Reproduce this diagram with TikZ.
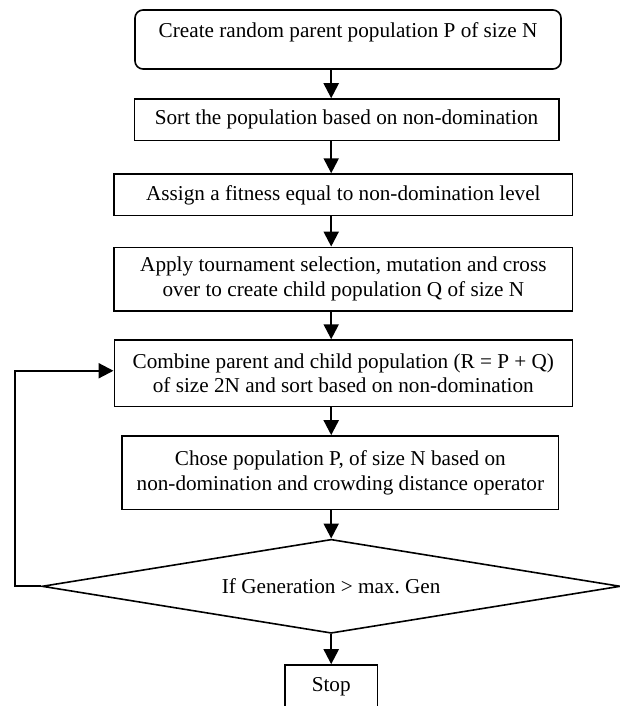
\documentclass[tikz,border=0pt]{standalone}
\usepackage{fontspec}
\setmainfont{Liberation Serif}
\usetikzlibrary{arrows.meta,shapes.geometric}

\begin{document}
\begin{tikzpicture}[x=0.5pt,y=-0.5pt,
    box/.style={draw,line width=0.8pt,inner sep=0pt,align=center,font=\fontsize{10.6}{12.3}\selectfont},
    flow/.style={line width=1.1pt,-{Triangle[length=7.5pt,width=7.5pt]}}]
  \clip (0,0) rectangle (620,706);
  % boxes
  \node (create) at (348,39.5) [box,rounded corners=4pt,minimum width=213pt,minimum height=29.5pt,text depth=9pt] {Create random parent population P of size N};
  \node (sort) at (346.5,119.85) [box,minimum width=212.2pt,minimum height=20.8pt] {Sort the population based on non-domination};
  \node (fitness) at (343.35,194.85) [box,minimum width=229.3pt,minimum height=20.8pt] {Assign a fitness equal to non-domination level};
  \node (child) at (343.35,279.15) [box,minimum width=229.3pt,minimum height=31.8pt] {Apply tournament selection, mutation and cross\\over to create child population Q of size N};
  \node (combine) at (343.3,373.35) [box,minimum width=229pt,minimum height=33.3pt] {Combine parent and child population (R = P + Q)\\of size 2N and sort based on non-domination};
  \node (chose) at (340.35,472.65) [box,minimum width=218.3pt,minimum height=36.7pt] {Chose population P, of size N based on\\non-domination and crowding distance operator};
  % decision
  \node (test) at (331.2,586.3) [box,diamond,aspect=6.16,minimum width=289.2pt,minimum height=47pt] {If Generation > max.\ Gen};
  \node (stop) at (331.2,686.8) [box,minimum width=46.35pt,minimum height=21.8pt] {Stop};
  % axis of the arrows
  \coordinate (axis) at (331.2,0);
  \coordinate (back) at (15,586.3);
  % arrows
  \draw[flow] (create.south -| axis) -- (sort.north -| axis);
  \draw[flow] (sort.south -| axis) -- (fitness.north -| axis);
  \draw[flow] (fitness.south -| axis) -- (child.north -| axis);
  \draw[flow] (child.south -| axis) -- (combine.north -| axis);
  \draw[flow] (combine.south -| axis) -- (chose.north -| axis);
  \draw[flow] (chose.south -| axis) -- (test.north);
  \draw[flow] (test.south) -- (stop.north);
  % loop back
  \draw[flow] (test.west) -- (back) |- ([yshift=1.3pt]combine.west);
\end{tikzpicture}
\end{document}
